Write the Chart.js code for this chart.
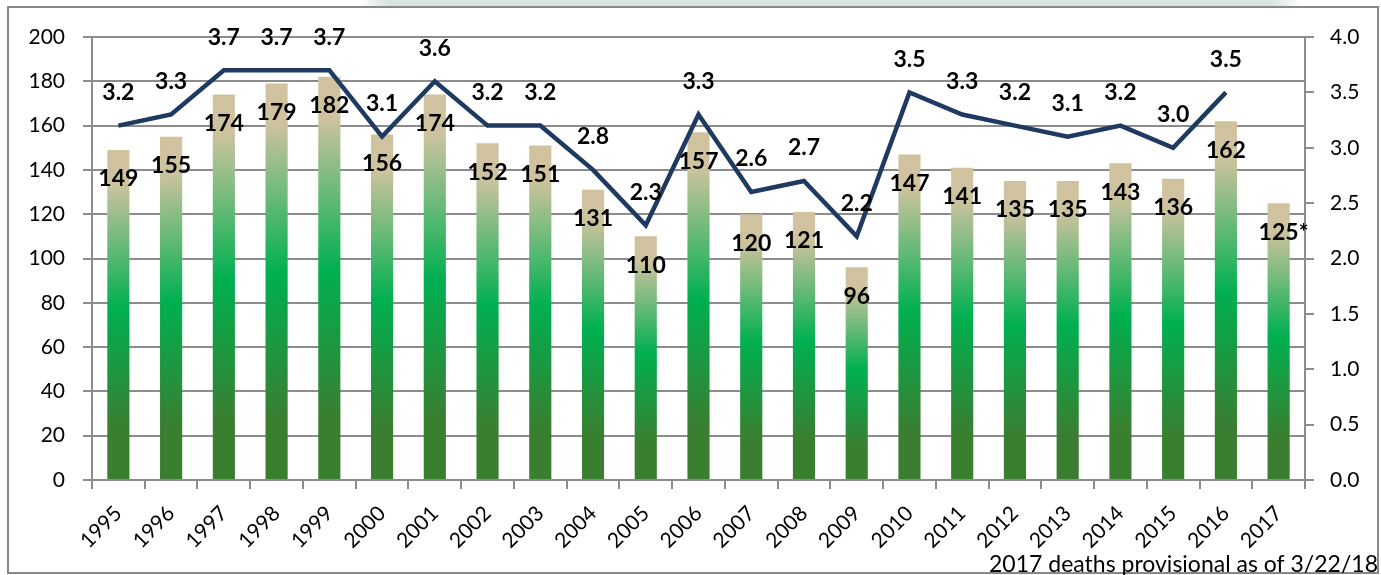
<!DOCTYPE html>
<html>
<head>
<meta charset="utf-8">
<script src="https://cdn.jsdelivr.net/npm/chart.js@4"></script>
<style>
  body { margin: 0; background: #fff; }
  #wrap { width: 1381px; height: 575px; position: relative; }
</style>
</head>
<body>
<div id="wrap"><canvas id="deathsChart"></canvas></div>
<script>
const years = ["1995","1996","1997","1998","1999","2000","2001","2002","2003","2004","2005","2006",
  "2007","2008","2009","2010","2011","2012","2013","2014","2015","2016","2017"];
const deaths = [149,155,174,179,182,156,174,152,151,131,110,157,120,121,96,147,141,135,135,143,136,162,125];
const deathLabels = ["149","155","174","179","182","156","174","152","151","131","110","157",
  "120","121","96","147","141","135","135","143","136","162","125*"];
const rates = [3.2,3.3,3.7,3.7,3.7,3.1,3.6,3.2,3.2,2.8,2.3,3.3,2.6,2.7,2.2,3.5,3.3,3.2,3.1,3.2,3.0,3.5,null];
const leftTicks = [0,20,40,60,80,100,120,140,160,180,200];
const rightTicks = [0,0.5,1,1.5,2,2.5,3,3.5,4];
const footnote = "2017 deaths provisional as of 3/22/18";

const FONT = "Lato, 'DejaVu Sans', sans-serif";
const GRID = "#8c8c8c";

function createDeathsChart() {
  const barFill = (context) => {
    const chart = context.chart;
    if (!chart.chartArea) return "#00B050";
    const v = deaths[context.dataIndex];
    const y = chart.scales.y;
    const top = y.getPixelForValue(v);
    const bottom = y.getPixelForValue(0);
    const g = chart.ctx.createLinearGradient(0, top, 0, bottom);
    g.addColorStop(0, "#D1C29E");
    g.addColorStop(0.1, "#CFC39E");
    g.addColorStop(0.48, "#00B050");
    g.addColorStop(0.85, "#3A7E30");
    g.addColorStop(1, "#3A7E30");
    return g;
  };

  const labelsPlugin = {
    id: "labels",
    beforeDraw(chart) {
      const ctx = chart.ctx;
      ctx.save();
      ctx.fillStyle = "#fff";
      ctx.fillRect(0, 0, chart.width, chart.height);
      const strip = ctx.createLinearGradient(360, 0, 1300, 0);
      strip.addColorStop(0, "rgba(214,227,223,0)");
      strip.addColorStop(0.03, "rgba(214,227,223,1)");
      strip.addColorStop(0.97, "rgba(214,227,223,1)");
      strip.addColorStop(1, "rgba(214,227,223,0)");
      ctx.fillStyle = strip;
      ctx.fillRect(360, 0, 940, 6);
      ctx.strokeStyle = "#888";
      ctx.lineWidth = 2;
      ctx.strokeRect(8, 7, 1370, 566);
      ctx.restore();
    },
    afterDatasetsDraw(chart) {
      const ctx = chart.ctx;
      ctx.save();
      ctx.font = "bold 23px " + FONT;
      ctx.fillStyle = "#000";
      ctx.textBaseline = "middle";
      ctx.textAlign = "left";
      chart.getDatasetMeta(0).data.forEach((el, i) => {
        const txt = deathLabels[i];
        const w = ctx.measureText(txt.replace("*", "")).width;
        ctx.fillText(txt, el.x - w / 2, el.y + 29);
      });
      ctx.textAlign = "center";
      chart.getDatasetMeta(1).data.forEach((el, i) => {
        if (rates[i] === null) return;
        ctx.fillText(rates[i].toFixed(1), el.x, el.y - 33);
      });
      ctx.font = "23px " + FONT;
      ctx.textAlign = "right";
      ctx.textBaseline = "alphabetic";
      ctx.fillText(footnote, 1378, 572);
      ctx.restore();
    }
  };

  const data = {
    labels: years,
    datasets: [
      {
        type: "bar",
        data: deaths,
        backgroundColor: barFill,
        barPercentage: 0.42,
        categoryPercentage: 1,
        yAxisID: "y",
        order: 2,
      },
      {
        type: "line",
        data: rates,
        borderColor: "#1F3A60",
        borderWidth: 4.5,
        pointRadius: 0,
        fill: false,
        tension: 0,
        spanGaps: false,
        yAxisID: "y1",
        order: 1,
      },
    ],
  };

  const config = {
    data: data,
    options: {
      responsive: false,
      animation: false,
      layout: { padding: { top: 37, left: 0, right: 0, bottom: 0 } },
      plugins: { legend: false, tooltip: { enabled: false } },
      scales: {
        x: {
          offset: true,
          grid: { offset: true, drawOnChartArea: false, color: GRID, lineWidth: 2, tickLength: 9 },
          border: { color: GRID, width: 2 },
          ticks: {
            color: "#000", font: { family: FONT, size: 21 },
            maxRotation: 45, minRotation: 45, padding: 12, autoSkip: false,
          },
          afterFit: (s) => { s.height = 95; },
        },
        y: {
          position: "left",
          min: 0, max: 200,
          afterBuildTicks: (s) => { s.ticks = leftTicks.map((v) => ({ value: v })); },
          grid: { color: GRID, lineWidth: 2, tickLength: 9 },
          border: { color: GRID, width: 2 },
          ticks: { color: "#000", font: { family: FONT, size: 21 }, padding: 18 },
          afterFit: (s) => { s.width = 92; },
        },
        y1: {
          position: "right",
          min: 0, max: 4,
          afterBuildTicks: (s) => { s.ticks = rightTicks.map((v) => ({ value: v })); },
          grid: { drawOnChartArea: false, color: GRID, lineWidth: 2, tickLength: 9 },
          border: { color: GRID, width: 2 },
          ticks: {
            color: "#000", font: { family: FONT, size: 21 }, padding: 16,
            callback: (v) => Number(v).toFixed(1),
          },
          afterFit: (s) => { s.width = 76; },
        },
      },
    },
    plugins: [labelsPlugin],
  };

  const ctx = document.getElementById("deathsChart");
  ctx.width = 1381;
  ctx.height = 575;
  new Chart(ctx, config);
}

document.addEventListener("DOMContentLoaded", () => {
  createDeathsChart()
});
</script>
</body>
</html>
